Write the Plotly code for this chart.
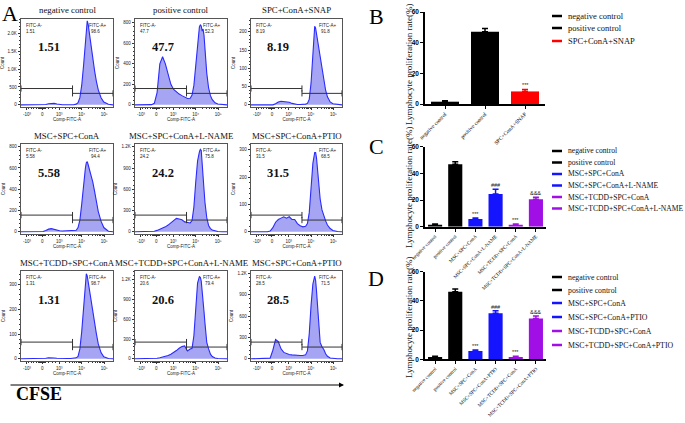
import math
import plotly.graph_objects as go

W, H = 685, 423

# ---------------- Panel A: flow-cytometry histograms ----------------
CHANNEL = [0, 5, 10, 15, 18, 21, 24, 27, 30, 33, 36, 39, 42, 45, 48, 51, 54, 57, 60,
           62, 64, 66, 68, 70, 71, 72, 73, 74, 75, 76, 78, 80, 82, 84, 87, 90, 95, 100]

COUNTS_NEG_CTRL = [0, 0, 0, 0, 0, 0, 2, 8, 30, 45, 40, 25, 10, 4, 2, 1, 1, 2, 20,
                   60, 200, 550, 1100, 1800, 2150, 2350, 2250, 2050, 1900, 1700, 1300, 950, 650, 420, 200, 80, 15, 0]
COUNTS_POS_CTRL = [0, 0, 0, 0, 2, 15, 120, 400, 470, 400, 290, 200, 150, 125, 105, 90, 75, 62, 65,
                   95, 190, 400, 620, 760, 780, 770, 720, 740, 680, 540, 310, 165, 90, 50, 20, 8, 2, 0]
COUNTS_SNAP = [0, 0, 0, 0, 0, 0, 0, 3, 8, 10, 9, 10, 7, 4, 2, 1, 1, 1, 2,
               4, 15, 60, 150, 215, 210, 195, 180, 165, 150, 135, 95, 65, 40, 22, 8, 3, 1, 0]
COUNTS_MSC = [0, 0, 0, 0, 0, 0, 3, 12, 25, 30, 22, 14, 10, 8, 8, 8, 8, 8, 15,
              40, 110, 260, 450, 600, 650, 660, 630, 600, 570, 540, 470, 380, 280, 190, 100, 40, 5, 0]
COUNTS_MSC_LNAME = [0, 0, 0, 0, 3, 8, 20, 35, 50, 70, 95, 130, 165, 190, 180, 170, 140, 130, 125,
                    160, 350, 700, 1000, 1130, 1165, 1150, 1000, 800, 600, 420, 200, 90, 45, 25, 12, 5, 1, 0]
COUNTS_MSC_PTIO = [0, 0, 0, 0, 0, 3, 15, 35, 45, 50, 55, 50, 55, 45, 45, 30, 22, 18, 20,
                   30, 70, 160, 250, 290, 290, 270, 230, 190, 150, 120, 80, 55, 40, 25, 12, 5, 1, 0]
COUNTS_TCDD = [0, 0, 0, 0, 0, 0, 0, 2, 4, 5, 3, 2, 1, 1, 1, 1, 1, 2, 4,
               10, 40, 110, 220, 320, 344, 335, 310, 290, 270, 250, 200, 150, 100, 60, 25, 8, 1, 0]
COUNTS_TCDD_LNAME = [0, 0, 0, 0, 0, 3, 8, 15, 25, 35, 50, 70, 95, 125, 160, 185, 195, 120, 150,
                     160, 350, 800, 1150, 1250, 1240, 1180, 1050, 900, 720, 550, 250, 150, 70, 35, 12, 4, 1, 0]
COUNTS_TCDD_PTIO = [0, 0, 0, 0, 0, 10, 120, 270, 240, 140, 90, 70, 60, 55, 50, 48, 46, 46, 55,
                    110, 350, 750, 1050, 1160, 1100, 950, 780, 600, 400, 230, 170, 130, 70, 35, 12, 4, 1, 0]

HIST_TITLES = ["negative control", "positive control", "SPC+ConA+SNAP",
               "MSC+SPC+ConA", "MSC+SPC+ConA+L-NAME", "MSC+SPC+ConA+PTIO",
               "MSC+TCDD+SPC+ConA", "MSC+TCDD+SPC+ConA+L-NAME", "MSC+SPC+ConA+PTIO"]
HIST_COUNTS = [COUNTS_NEG_CTRL, COUNTS_POS_CTRL, COUNTS_SNAP,
               COUNTS_MSC, COUNTS_MSC_LNAME, COUNTS_MSC_PTIO,
               COUNTS_TCDD, COUNTS_TCDD_LNAME, COUNTS_TCDD_PTIO]
PCT_NEG = ["1.51", "47.7", "8.19", "5.58", "24.2", "31.5", "1.31", "20.6", "28.5"]
PCT_POS = ["98.6", "52.3", "91.8", "94.4", "75.8", "68.5", "98.7", "79.4", "71.5"]

Y_TICKVALS = [[0, 500, 1000, 1500, 2000], [0, 200, 400, 600, 800], [0, 50, 100, 150, 200],
              [0, 200, 400, 600, 800], [0, 300, 600, 900, 1200], [0, 100, 200, 300],
              [0, 100, 200, 300], [0, 300, 600, 900, 1200], [0, 300, 600, 900, 1200]]
Y_TICKTEXT = [["0", "500", "1.0K", "1.5K", "2.0K"], ["0", "200", "400", "600", "800"],
              ["0", "50", "100", "150", "200"], ["0", "200", "400", "600", "800"],
              ["0", "300", "600", "900", "1.2K"], ["0", "100", "200", "300"],
              ["0", "100", "200", "300"], ["0", "300", "600", "900", "1.2K"],
              ["0", "300", "600", "900", "1.2K"]]
Y_TOP = [2400, 838, 235, 825, 1240, 321, 355, 1335, 1232]

X_TICKVALS = [6.5, 23, 41.5, 66, 90.5]
X_TICKTEXT = ["-10³", "0", "10³", "10⁴", "10⁵"]
GATE_X = 56

# ---------------- Panels B, C, D: bar charts ----------------
B_CATS = ["negative control", "positive control", "SPC+ConA+SNAP"]
B_VALS = [1.5, 47.2, 8.2]
B_ERR = [0.7, 2.0, 1.3]
B_COLORS = ["#000000", "#000000", "#ff0000"]
B_SIG = ["", "", "***"]

C_CATS = ["negative control", "positive control", "MSC+SPC+ConA", "MSC+SPC+ConA+L-NAME",
          "MSC+TCDD+SPC+ConA", "MSC+TCDD+SPC+ConA+L-NAME"]
C_VALS = [1.5, 46.8, 5.8, 24.5, 1.5, 20.5]
C_ERR = [0.6, 2.0, 0.8, 3.5, 0.6, 1.5]
C_SIG = ["", "", "***", "###", "***", "&&&"]

D_CATS = ["negative control", "positive control", "MSC+SPC+ConA", "MSC+SPC+ConA+PTIO",
          "MSC+TCDD+SPC+ConA", "MSC+TCDD+SPC+ConA+PTIO"]
D_VALS = [1.5, 46.3, 5.7, 31.5, 1.5, 28.0]
D_ERR = [0.6, 1.8, 0.7, 1.8, 0.6, 1.6]
D_SIG = ["", "", "***", "###", "***", "&&&"]

BLUE = "#1414ff"
PURPLE = "#a010e6"
CD_COLORS = ["#000000", "#000000", BLUE, BLUE, PURPLE, PURPLE]

SERIF = "Liberation Serif"
SANS = "Liberation Sans"


def px(x):
    return x / W


def py(y):
    return 1 - y / H


fig = go.Figure()
layout = dict(width=W, height=H, autosize=False, margin=dict(l=0, r=0, t=0, b=0, pad=0),
              paper_bgcolor="white", plot_bgcolor="white", showlegend=False,
              barmode="overlay")
annotations = []
shapes = []

COL_X = [(21, 113), (135, 227), (251, 342)]
ROW_Y = [(19, 107), (144, 234), (271, 361)]
TITLE_Y = [10, 136, 263]

minor_x = ([19 + 0.8 * k for k in range(10)]
           + [41.5 + 24.5 * math.log10(k) for k in range(2, 10)]
           + [66 + 24.5 * math.log10(k) for k in range(2, 10)]
           + [8, 11, 14, 17, 30, 34, 38])

for i in range(9):
    n = i + 1
    r, c = divmod(i, 3)
    xa = "xaxis" if n == 1 else f"xaxis{n}"
    ya = "yaxis" if n == 1 else f"yaxis{n}"
    xs = "x" if n == 1 else f"x{n}"
    ys = "y" if n == 1 else f"y{n}"
    x0, x1 = COL_X[c]
    y0, y1 = ROW_Y[r]
    top = Y_TOP[i]
    step = Y_TICKVALS[i][1]
    layout[xa] = dict(domain=[px(x0), px(x1)], range=[0, 100], anchor=ys, showgrid=False, zeroline=False,
                      automargin=False,
                      showline=True, mirror=True, linecolor="#555", linewidth=0.8,
                      ticks="outside", ticklen=2.5, tickwidth=0.7, tickcolor="#333",
                      tickvals=X_TICKVALS, ticktext=X_TICKTEXT,
                      tickfont=dict(family=SANS, size=4.5, color="#222"),
                      minor=dict(tickmode="array", tickvals=minor_x, ticks="outside", ticklen=1.5,
                                 tickwidth=0.6, tickcolor="#333"),
                      title=dict(text="Comp-FITC-A", font=dict(family=SANS, size=4.5, color="#222"), standoff=2))
    layout[ya] = dict(domain=[py(y1), py(y0)], range=[-0.025 * top, top], anchor=xs, showgrid=False,
                      automargin=False,
                      zeroline=False, showline=True, mirror=True, linecolor="#555", linewidth=0.8,
                      ticks="outside", ticklen=2.5, tickwidth=0.7, tickcolor="#333",
                      tickvals=Y_TICKVALS[i], ticktext=Y_TICKTEXT[i],
                      tickfont=dict(family=SANS, size=4.5, color="#222"),
                      minor=dict(tickmode="linear", tick0=0, dtick=step / 5, ticks="outside", ticklen=1.3,
                                 tickwidth=0.5, tickcolor="#333"),
                      title=dict(text="Count", font=dict(family=SANS, size=4.5, color="#222"), standoff=3))
    fig.add_trace(go.Scatter(x=CHANNEL, y=HIST_COUNTS[i], mode="lines", fill="tozeroy",
                             fillcolor="rgba(130,130,240,0.72)", line=dict(color="#2a2aff", width=1.1),
                             xaxis=xs, yaxis=ys, hoverinfo="skip"))
    # gates
    for gx0, gx1, gy in [(0, GATE_X, 0.21), (GATE_X, 100, 0.155)]:
        shapes.append(dict(type="line", xref=xs, yref=f"{ys} domain", x0=gx0, x1=gx1, y0=gy, y1=gy,
                           line=dict(color="#333", width=1)))
        for gx in (gx0, gx1):
            shapes.append(dict(type="line", xref=xs, yref=f"{ys} domain", x0=gx, x1=gx, y0=gy - 0.035,
                               y1=gy + 0.035, line=dict(color="#333", width=1)))
    # title
    annotations.append(dict(text=HIST_TITLES[i], x=px((x0 + x1) / 2), y=py(TITLE_Y[r]), xref="paper",
                            yref="paper", showarrow=False, xanchor="center", yanchor="middle",
                            font=dict(family=SERIF, size=8.8, color="#111")))
    # gate stats
    small = dict(family=SANS, size=4.5, color="#222")
    annotations += [
        dict(text="FITC-A-", x=0.035, y=0.93, xref=f"{xs} domain", yref=f"{ys} domain", showarrow=False,
             xanchor="left", yanchor="middle", font=small),
        dict(text=PCT_NEG[i], x=0.035, y=0.86, xref=f"{xs} domain", yref=f"{ys} domain", showarrow=False,
             xanchor="left", yanchor="middle", font=small),
        dict(text="FITC-A+", x=0.72, y=0.93, xref=f"{xs} domain", yref=f"{ys} domain", showarrow=False,
             xanchor="left", yanchor="middle", font=small),
        dict(text=PCT_POS[i], x=0.885, y=0.86, xref=f"{xs} domain", yref=f"{ys} domain", showarrow=False,
             xanchor="right", yanchor="middle", font=small),
        dict(text="<b>%s</b>" % PCT_NEG[i], x=0.3, y=0.68, xref=f"{xs} domain", yref=f"{ys} domain",
             showarrow=False, xanchor="center", yanchor="middle",
             font=dict(family=SERIF, size=12.5, color="#111")),
    ]

# CFSE arrow and label
annotations.append(dict(text="", x=px(344), y=py(385), ax=-(344 - 9), ay=0, xref="paper", yref="paper",
                        axref="pixel", ayref="pixel", showarrow=True, arrowhead=2, arrowsize=1,
                        arrowwidth=1, arrowcolor="#000"))
annotations.append(dict(text="<b>CFSE</b>", x=px(14), y=py(394), xref="paper", yref="paper", showarrow=False,
                        xanchor="left", yanchor="middle", font=dict(family=SERIF, size=18, color="#000")))

# panel letters
for letter, lx, ly in [("A", 10, 13), ("B", 376, 16), ("C", 376, 147), ("D", 376, 278)]:
    annotations.append(dict(text=letter, x=px(lx), y=py(ly), xref="paper", yref="paper", showarrow=False,
                            xanchor="center", yanchor="middle", font=dict(family=SERIF, size=22, color="#000")))

# ---------------- bar panels ----------------
BAR_PANELS = [
    (10, B_CATS, B_VALS, B_ERR, B_COLORS, B_SIG, (425, 545), (104, 12), 65, [16, 28, 41], 8.5, 5.5),
    (11, C_CATS, C_VALS, C_ERR, CD_COLORS, C_SIG, (425, 546), (226.7, 146.7), 188,
     [151, 162.5, 174, 185.5, 197, 208.5], 7.6, 5),
    (12, D_CATS, D_VALS, D_ERR, CD_COLORS, D_SIG, (425, 546), (359.3, 271.7), 318,
     [277, 290, 303, 317, 331, 345], 7.8, 5),
]

for n, cats, vals, errs, cols, sigs, (bx0, bx1), (by0, by1), title_y, leg_y, leg_fs, tick_fs in BAR_PANELS:
    xs, ys = f"x{n}", f"y{n}"
    layout[f"xaxis{n}"] = dict(domain=[px(bx0), px(bx1)], anchor=ys, type="category", automargin=False,
                               categoryorder="array", categoryarray=cats, range=[-0.5, len(cats) - 0.5],
                               showline=True, linecolor="#000", linewidth=1.6, showgrid=False,
                               ticks="outside", ticklen=3, tickwidth=1.2, tickcolor="#000", tickangle=-45,
                               tickfont=dict(family=SERIF, size=tick_fs, color="#000"))
    layout[f"yaxis{n}"] = dict(domain=[py(by0), py(by1)], anchor=xs, range=[0, 60], showline=True,
                               automargin=False,
                               linecolor="#000", linewidth=1.6, showgrid=False, zeroline=False,
                               ticks="outside", ticklen=3, tickwidth=1.2, tickcolor="#000",
                               tickvals=[0, 20, 40, 60], ticktext=["<b>0</b>", "<b>20</b>", "<b>40</b>", "<b>60</b>"],
                               tickfont=dict(family=SANS, size=6.5, color="#000"))
    for cat, v, e, col, s in zip(cats, vals, errs, cols, sigs):
        fig.add_trace(go.Bar(x=[cat], y=[v], width=0.7, marker=dict(color=col, line=dict(width=0)),
                             error_y=dict(type="data", array=[e], arrayminus=[0], symmetric=False,
                                          color=col, thickness=1.5, width=3),
                             xaxis=xs, yaxis=ys, hoverinfo="skip"))
        if s:
            annotations.append(dict(text=s, x=cat, y=v + e, xref=xs, yref=ys, showarrow=False,
                                    xanchor="center", yanchor="bottom", yshift=-1,
                                    font=dict(family=SANS, size=5.5, color="#222")))
    # y title
    annotations.append(dict(text="Lymphocyte proliferation rate(%)", x=px(409), y=py(title_y),
                            xref="paper", yref="paper", showarrow=False, textangle=-90,
                            xanchor="center", yanchor="middle", font=dict(family=SERIF, size=9, color="#111")))
    # manual legend
    for cat, col, ly in zip(cats, cols, leg_y):
        shapes.append(dict(type="line", xref="paper", yref="paper", x0=px(552), x1=px(562), y0=py(ly), y1=py(ly),
                           line=dict(color=col, width=2.5)))
        annotations.append(dict(text=cat, x=px(566), y=py(ly), xref="paper", yref="paper", showarrow=False,
                                xanchor="left", yanchor="middle",
                                font=dict(family=SERIF, size=leg_fs, color="#111")))

layout["annotations"] = annotations
layout["shapes"] = shapes
fig.update_layout(**layout)
fig.write_html("out.html", config={"displayModeBar": False},
               post_script="document.body.style.margin='0px';document.body.style.padding='0px';")
